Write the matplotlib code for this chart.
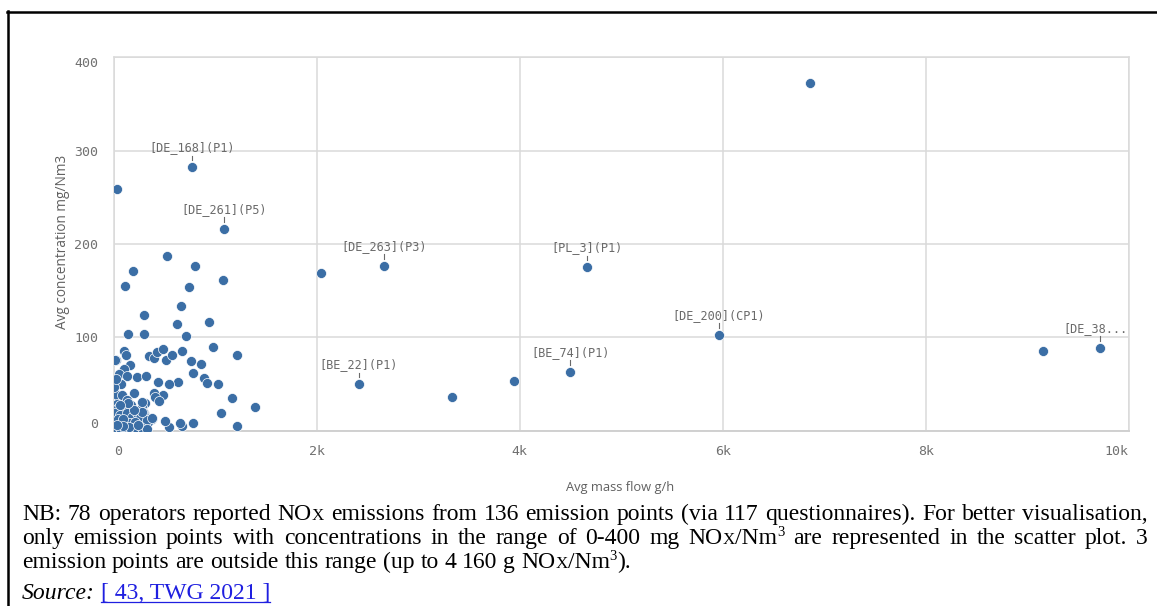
import matplotlib
matplotlib.use('Agg')
import matplotlib.pyplot as plt
from matplotlib.lines import Line2D

# scatter data: avg mass flow g/h, avg concentration mg/Nm3
mass_flow = [35, 2039, 3336, 3947, 9159, 6860,
             526, 801, 187, 114, 1077, 739, 663, 296, 942, 627, 141, 296, 716, 975,
             1212, 105, 121, 26, 345, 397, 427, 486, 512, 578, 670, 759, 857, 161,
             101, 55, 128, 230, 321, 784, 893, 922, 1028, 630, 548, 439, 69, 10,
             85, 203, 394, 489, 407, 446, 1163, 1395, 1054, 1218, 784, 673, 653, 542,
             509, 377, 335, 296, 308, 282, 167, 151, 183, 315, 252, 187,
             30, 79, 128, 30, 45, 111, 13, 62, 128, 177, 227, 292, 259, 325, 374,
             13, 62, 111, 161, 210, 13, 62, 111, 177, 227, 276, 325, 5, 13, 276, 276,
             40, 90, 150, 200, 240, 20, 95, 140, 60, 35]
concentration = [259, 168.6, 36, 53, 85.7, 372.5,
                 187, 176.8, 171.4, 155.4, 161.1, 154, 133.6, 123.6, 116.8, 114, 103.3, 103.3, 101.5, 89.7,
                 81.1, 85, 81, 75.4, 80, 78.2, 84.3, 87.2, 75.7, 81.4, 85, 74.7, 71.1, 70.7,
                 66.4, 60.7, 59, 57.9, 58.6, 61.5, 56.5, 51.4, 50, 52.2, 50, 51.8, 49.7, 40.7,
                 38.6, 40.4, 40.7, 38.6, 36.4, 32.1, 34.7, 25.4, 19, 4.7, 8.6, 5, 7.9, 3.6,
                 10.7, 12.5, 9.3, 19.3, 29.4, 25.7, 27.5, 18.6, 9.6, 2.1, 2.5, 1.8,
                 38, 38, 33, 29, 24, 25.7, 18.6, 16.8, 18.6, 15, 18.6, 20.4, 13.3, 11.5, 13.3,
                 9.6, 7.9, 9.6, 7.9, 9.6, 2.5, 2.5, 1.5, 2.5, 1.5, 2.5, 1.5, 47, 75.7, 31, 20.4,
                 12, 13, 4, 22, 6, 55, 5, 30, 28, 6]

# labelled emission points
label_text = ['[DE_168](P1)', '[DE_261](P5)', '[DE_263](P3)', '[PL_3](P1)',
              '[BE_22](P1)', '[BE_74](P1)', '[DE_200](CP1)', '[DE_38...']
label_x = [768, 1087, 2663, 4663, 2414, 4499, 5961, 9714]
label_y = [282, 216, 176.5, 175, 49.7, 63, 102.9, 89]

x_ticks = [0, 2000, 4000, 6000, 8000, 10000]
x_tick_labels = ['0', '2k', '4k', '6k', '8k', '10k']
y_ticks = [0, 100, 200, 300, 400]
y_tick_labels = ['0', '100', '200', '300', '400']

W, H = 1157, 606
BLUE = '#3b6ea5'
GRAY_TXT = '#707070'
GRID = '#dadada'
MONO = 'DejaVu Sans Mono'


def fx(x):
    return x / W


def fy(y):
    return 1 - y / H


fig = plt.figure(figsize=(W / 100, H / 100), dpi=100)
ax = fig.add_axes([fx(113.7), fy(430.7), (1128.7 - 113.7) / W, (430.7 - 57.3) / H])

ax.scatter(mass_flow + label_x, concentration + label_y, s=52, c=BLUE,
           edgecolors='white', linewidths=0.5, zorder=3)

for t, x, y in zip(label_text, label_x, label_y):
    ha = 'right' if t.endswith('...') else 'center'
    dx = (1127 - (113.7 + x * 0.1015)) / 100 * 72 if ha == 'right' else 0
    ax.annotate(t, (x, y), xytext=(dx, 14), textcoords='offset points',
                ha=ha, va='center', fontsize=8.6, family=MONO, color='#6a6a6a',
                zorder=4)
    ax.plot([x, x], [y + 7.5, y + 12.5], color='#6a6a6a', lw=0.8, zorder=4)

ax.set_xlim(0, 10000)
ax.set_ylim(0, 400)
ax.set_xticks(x_ticks)
ax.set_xticklabels(x_tick_labels)
ax.set_yticks(y_ticks)
ax.set_yticklabels(y_tick_labels)
ax.tick_params(length=0, labelsize=9.5, labelcolor=GRAY_TXT)
ax.tick_params(axis='x', pad=10)
ax.tick_params(axis='y', pad=11)
for lab in ax.get_xticklabels() + ax.get_yticklabels():
    lab.set_family(MONO)
ax.get_xticklabels()[0].set_ha('left')
ax.get_xticklabels()[-1].set_ha('right')
ax.get_yticklabels()[0].set_va('bottom')
ax.get_yticklabels()[-1].set_va('top')

ax.grid(True, color=GRID, lw=1.1)
ax.set_axisbelow(True)
for side in ['left', 'top', 'right']:
    ax.spines[side].set_color(GRID)
    ax.spines[side].set_linewidth(1.1)
ax.spines['bottom'].set_color('#d0d0d0')
ax.spines['bottom'].set_linewidth(1.4)

fig.text(fx(62), fy(242), 'Avg concentration mg/Nm3', rotation=90, ha='center',
         va='center', fontsize=9.8, family='Open Sans', color='#606060')
fig.text(fx(620), fy(487), 'Avg mass flow g/h', ha='center', va='center',
         fontsize=9.3, family='Open Sans', color='#606060')

# outer frame (top and left black rules)
fig.add_artist(Line2D([fx(7), fx(W)], [fy(12), fy(12)], color='black', lw=1.8))
fig.add_artist(Line2D([fx(8), fx(8)], [fy(11), fy(H)], color='black', lw=1.8))

# caption, laid out word by word so the first two lines can be justified
SERIF = 'Liberation Serif'
FS = 17.0
renderer = fig.canvas.get_renderer()


def word(s, style='normal', color='black'):
    return [(s, FS, style, color, 0)]


def nox(tail=None):
    segs = [('NO', FS, 'normal', 'black', 0), ('X', FS * 0.72, 'normal', 'black', 0)]
    if tail:
        segs += [('/Nm', FS, 'normal', 'black', 0), ('3', FS * 0.62, 'normal', 'black', 8)]
        if tail != 'sup':
            segs.append((tail, FS, 'normal', 'black', 0))
    return segs


def draw_line(words, base_y, x0, x1=None):
    placed = []
    total = 0
    for wd in words:
        arts = []
        ww = 0
        for s, size, style, color, dy in wd:
            t = fig.text(0, fy(base_y - dy), s, fontsize=size, style=style,
                         family=SERIF, color=color, va='baseline', ha='left')
            w = t.get_window_extent(renderer).width
            arts.append((t, w))
            ww += w
        placed.append((arts, ww))
        total += ww
    if x1 is not None and len(words) > 1:
        gap = (x1 - x0 - total) / (len(words) - 1)
    else:
        t = fig.text(0, 0, 'a a', fontsize=FS, family=SERIF)
        t2 = fig.text(0, 0, 'aa', fontsize=FS, family=SERIF)
        gap = t.get_window_extent(renderer).width - t2.get_window_extent(renderer).width
        t.remove()
        t2.remove()
    x = x0
    spans = []
    for arts, ww in placed:
        start = x
        for t, w in arts:
            t.set_x(fx(x))
            x += w
        spans.append((start, x))
        x += gap
    return spans


line1 = [word(s) for s in ['NB:', '78', 'operators', 'reported']] + [nox()] + \
    [word(s) for s in ['emissions', 'from', '136', 'emission', 'points', '(via', '117',
                       'questionnaires).', 'For', 'better', 'visualisation,']]
line2 = [word(s) for s in ['only', 'emission', 'points', 'with', 'concentrations', 'in',
                           'the', 'range', 'of', '0-400', 'mg']] + [nox('sup')] + \
    [word(s) for s in ['are', 'represented', 'in', 'the', 'scatter', 'plot.', '3']]
line3 = [word(s) for s in ['emission', 'points', 'are', 'outside', 'this', 'range', '(up',
                           'to', '4', '160', 'g']] + [nox(').')]

draw_line(line1, 520, 22, 1148)
draw_line(line2, 544, 22, 1148)
draw_line(line3, 568, 22)

src = [word('Source:', style='italic'), word('[ 43, TWG 2021 ]', color='#1f1fe0')]
spans = draw_line(src, 599, 22)
link_x0, link_x1 = spans[1]
fig.add_artist(Line2D([fx(link_x0), fx(link_x1)], [fy(602), fy(602)],
                      color='#1f1fe0', lw=0.9))

fig.savefig('out.png', dpi=100)
